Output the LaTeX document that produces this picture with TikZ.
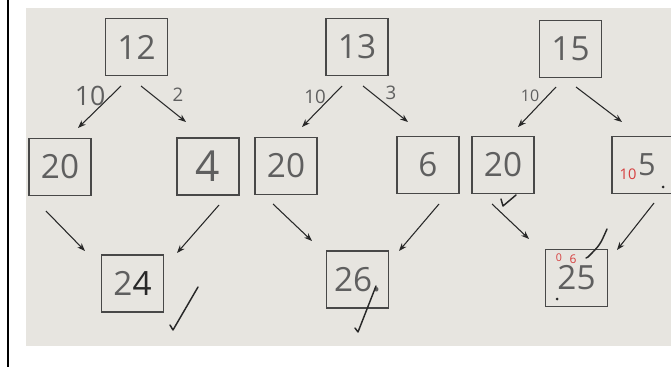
\documentclass[tikz,border=0pt]{standalone}
\usepackage{fontspec}
\setmainfont{Open Sans}
\usetikzlibrary{arrows.meta}

\definecolor{paper}{RGB}{231,229,224}
\definecolor{pencil}{RGB}{95,95,95}
\definecolor{ink}{RGB}{40,40,40}
\definecolor{redpen}{RGB}{214,62,62}

\tikzset{every picture/.style={line width=0.75pt}}
\tikzset{
  numbox/.style={draw=ink!85,line width=0.8pt,minimum width=46.5pt,minimum height=42.75pt,inner sep=0pt,text=pencil,font=\fontsize{25}{25}\selectfont},
  flow/.style={draw=ink,line width=0.8pt,-{Stealth[length=6pt,width=4.5pt]}},
  weight/.style={text=pencil,inner sep=0.75pt,font=\fontsize{14}{14}\selectfont},
  tick/.style={draw=ink,line width=1.1pt,line cap=round,line join=round},
}

\begin{document}
\begin{tikzpicture}[x=0.75pt,y=0.75pt,yscale=-1,xscale=1]
\useasboundingbox (0,0) rectangle (671,367);

%paper and margin rule
\fill[paper] (26,8) rectangle (671,346);
\draw[line width=1.5pt] (8,0) -- (8,367);

%first tree
\node[numbox] (b12) at (136.5,47) {12};
\node[numbox] (b20a) at (60,167) {20};
\node[numbox,font=\fontsize{32}{32}\selectfont] (b4) at (208,166.5) {4};
\node[numbox] (b24) at (132.5,283.5) {2{\color{ink}4}};
\draw[flow] ([shift={(-15.5,39)}]b12.center) -- ([shift={(18,-39)}]b20a.center);
\draw[flow] ([shift={(4.5,39)}]b12.center) -- ([shift={(-22,-44.5)}]b4.center);
\draw[flow] ([shift={(-14,44)}]b20a.center) -- ([shift={(-47.5,-32.5)}]b24.center);
\draw[flow] ([shift={(11,38.5)}]b4.center) -- ([shift={(44.5,-30.5)}]b24.center);
\node[weight,font=\fontsize{20}{20}\selectfont] (w1a) at (90,96) {10};
\node[weight] (w1b) at (178,95) {2};
\draw[tick] (170,325) -- (173,330) -- (198,287);

%second tree
\node[numbox] (b13) at (357,47) {13};
\node[numbox] (b20b) at (286,166) {20};
\node[numbox] (b6) at (428,165) {6};
\node[numbox] (b26) at (357.5,279.5) {26.};
\draw[flow] ([shift={(-15,39)}]b13.center) -- ([shift={(16,-39)}]b20b.center);
\draw[flow] ([shift={(6,39)}]b13.center) -- ([shift={(-20,-43)}]b6.center);
\draw[flow] ([shift={(-13,38)}]b20b.center) -- ([shift={(-45.5,-38.5)}]b26.center);
\draw[flow] ([shift={(11,39)}]b6.center) -- ([shift={(41.5,-28.5)}]b26.center);
\node[weight] (w2a) at (315,97) {10};
\node[weight] (w2b) at (391,93) {3};
\draw[tick] (355,328) -- (358,332) -- (376,286);

%third tree
\node[numbox] (b15) at (570.5,49) {15};
\node[numbox] (b20c) at (503,165) {20};
\node[numbox] (b105) at (643,165) {};
\node[numbox] (b25) at (576.5,278) {25};
\draw[flow] ([shift={(-14.5,38)}]b15.center) -- ([shift={(15,-38)}]b20c.center);
\draw[flow] ([shift={(5.5,38)}]b15.center) -- ([shift={(-21,-43)}]b105.center);
\draw[flow] ([shift={(-11,39)}]b20c.center) -- ([shift={(-47.5,-39)}]b25.center);
\draw[flow] ([shift={(11,38)}]b105.center) -- ([shift={(40.5,-28)}]b25.center);
\node[weight,font=\fontsize{12}{12}\selectfont] (w3a) at (530,96) {10};
\node[text=redpen,inner sep=0pt,font=\fontsize{11}{11}\selectfont] (r10) at (628,174) {10};
\node[text=pencil,inner sep=0pt,font=\fontsize{23}{23}\selectfont] (f5) at (647,165) {5};
\fill[ink] (663,187) circle (1.5);
\node[text=redpen,inner sep=0pt,font=\fontsize{8}{8}\selectfont] (r0) at (559,258) {0};
\node[text=redpen,inner sep=0pt,font=\fontsize{9}{9}\selectfont] (r6) at (573,259) {6};
\fill[ink] (557,299) circle (1.5);
\draw[tick] (501,199) -- (503,206) -- (516,195);
\draw[tick] (607,229) .. controls (600,245) .. (588,257) -- (586,258);

\end{tikzpicture}
\end{document}
